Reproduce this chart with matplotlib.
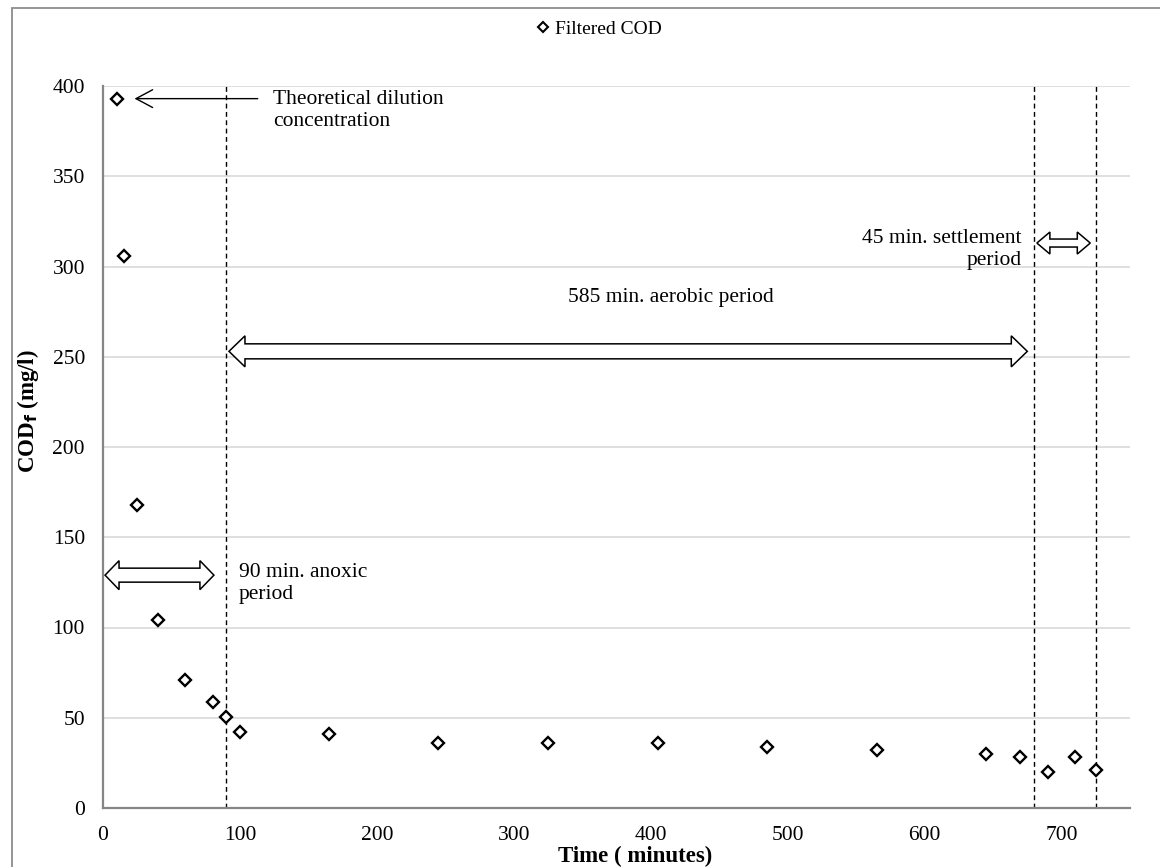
import matplotlib
matplotlib.use('Agg')
import matplotlib.pyplot as plt
from matplotlib.patches import Polygon, Rectangle
from matplotlib.lines import Line2D
from matplotlib.transforms import IdentityTransform

plt.rcParams['font.family'] = ['Liberation Serif', 'DejaVu Serif']

time_min = [10, 15, 25, 40, 60, 80, 90, 100, 165, 245, 325, 405, 485, 565, 645, 670, 690, 710, 725]
cod_f = [393, 306, 168, 104, 71, 59, 50.5, 42, 41, 36, 36, 36, 34, 32, 30, 28, 20, 28, 21]
phase_bounds = [90, 680, 725]
y_ticks = [0, 50, 100, 150, 200, 250, 300, 350, 400]
x_ticks = [0, 100, 200, 300, 400, 500, 600, 700]

fig = plt.figure(figsize=(11.6, 8.67), dpi=100)
W, H = 1160, 867
ax = fig.add_axes([103 / W, 1 - 808 / H, (1130 - 103) / W, (808 - 86) / H])

# grey frame round the chart area
fig.patches.append(Rectangle((12 / W, -0.05), 1.2, 1 - 8 / H + 0.05, transform=fig.transFigure,
                             fill=False, ec='#8c8c8c', lw=1.3))

ax.set_xlim(0, 750)
ax.set_ylim(0, 400)
ax.set_xticks(x_ticks)
ax.set_yticks(y_ticks)
ax.tick_params(length=0, labelsize=15.5, colors='black')
ax.tick_params(axis='y', pad=13)
ax.tick_params(axis='x', pad=13)
ax.grid(axis='y', color='#d9d9d9', lw=1.2)
ax.set_axisbelow(True)
for s in ['top', 'right']:
    ax.spines[s].set_visible(False)
for s in ['left', 'bottom']:
    ax.spines[s].set_color('#868686')
    ax.spines[s].set_linewidth(1.6)

for xb in phase_bounds:
    ax.axvline(xb, color='black', lw=1, ls=(0, (3.5, 2.5)), zorder=2)

ax.plot(time_min, cod_f, ls='none', marker='D', ms=6.5, mfc='white', mec='black', mew=1.7,
        zorder=4, label='Filtered COD')

ax.set_xlabel('Time ( minutes)', fontsize=16.5, fontweight='bold')
ax.set_ylabel(r'COD$_\mathbf{f}$ (mg/l)', fontsize=16.5, fontweight='bold')
ax.xaxis.set_label_coords(0.518, -0.052)
ax.yaxis.set_label_coords(-0.06, 0.55)


def block_arrow(x0, x1, yc, shaft, head, hlen):
    # hollow double-headed block arrow, sizes in pixels
    p0 = ax.transData.transform((x0, yc))
    p1 = ax.transData.transform((x1, yc))
    a, b, y = p0[0], p1[0], p0[1]
    verts = [(a, y), (a + hlen, y + head), (a + hlen, y + shaft), (b - hlen, y + shaft),
             (b - hlen, y + head), (b, y), (b - hlen, y - head), (b - hlen, y - shaft),
             (a + hlen, y - shaft), (a + hlen, y - head)]
    ax.add_patch(Polygon(verts, closed=True, transform=IdentityTransform(), fc='white',
                         ec='black', lw=1.1, clip_on=False, zorder=5))


block_arrow(1.5, 81, 129, 7, 14.5, 14)
block_arrow(92, 675, 253, 7.5, 15.5, 16)
block_arrow(682, 721, 313, 4, 11, 13)

ax.annotate('', xy=(23, 393), xytext=(113, 393),
            arrowprops=dict(arrowstyle='->,head_length=0.6,head_width=0.32', lw=1,
                            color='black', shrinkA=0, shrinkB=0, mutation_scale=20))
ax.text(124, 398, 'Theoretical dilution\nconcentration', fontsize=15.5, va='top', ha='left',
        linespacing=1.25)
ax.text(99, 136, '90 min. anoxic\nperiod', fontsize=15.5, va='top', ha='left', linespacing=1.25)
ax.text(415, 283, '585 min. aerobic period', fontsize=15.5, va='center', ha='center')
ax.text(671, 321, '45 min. settlement\nperiod', fontsize=15.5, va='top', ha='right',
        linespacing=1.25)

handle = Line2D([], [], ls='none', marker='D', ms=5.5, mfc='white', mec='black', mew=1.5)
fig.legend([handle], ['Filtered COD'], loc='center', bbox_to_anchor=(0.515, 1 - 29 / H),
           frameon=False, fontsize=14, handletextpad=0.1, handlelength=1.0, borderaxespad=0)

fig.savefig('out.png', dpi=100)
